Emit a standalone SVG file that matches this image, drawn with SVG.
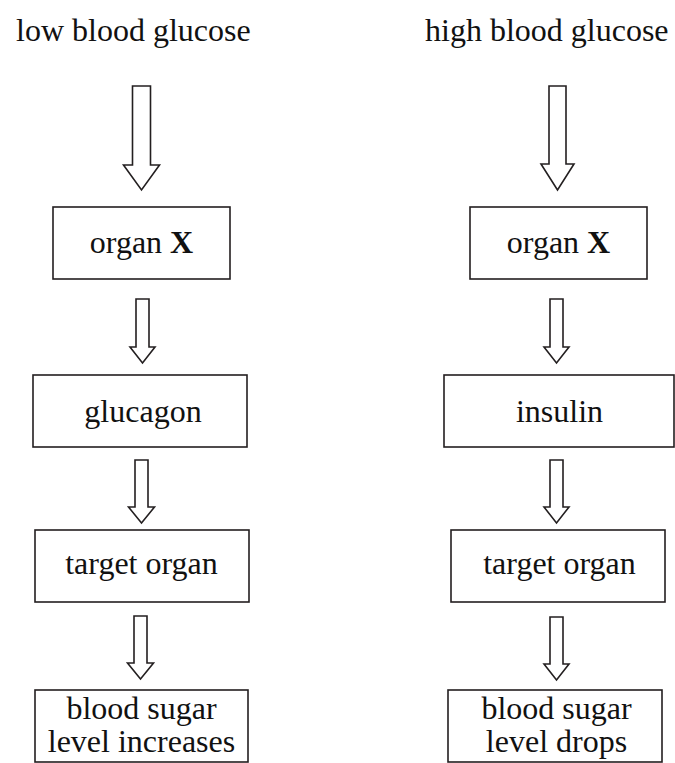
<svg xmlns="http://www.w3.org/2000/svg" width="675" height="763" viewBox="0 0 675 763">
<style>
text{font-family:"Liberation Serif","Times New Roman",serif;font-size:32px;fill:#111}
.c{text-anchor:middle}
.box{fill:#fff;stroke:#231f20;stroke-width:1.6}
.arr{fill:#fff;stroke:#231f20;stroke-width:1.6;stroke-linejoin:miter}
</style>
<rect width="675" height="763" fill="#fff"/>
<g id="title-low"><text x="16" y="41">low blood glucose</text></g>
<g id="title-high"><text x="425" y="41">high blood glucose</text></g>
<g id="connectors">
<polygon class="arr" points="132.5,86 150.5,86 150.5,165 159.5,165 141.5,190 123.5,165 132.5,165"/>
<polygon class="arr" points="136,299 149,299 149,347 155,347 142.5,363 130,347 136,347"/>
<polygon class="arr" points="135,460 148,460 148,507 154.5,507 141.5,523 128.5,507 135,507"/>
<polygon class="arr" points="134,616 147,616 147,663 153.5,663 140.5,679 127.5,663 134,663"/>
<polygon class="arr" points="549,86 566,86 566,164 574,164 557.5,190 541,164 549,164"/>
<polygon class="arr" points="550,299 563,299 563,347 569,347 556.5,363 544,347 550,347"/>
<polygon class="arr" points="550,460 563,460 563,507 569,507 556.5,523 544,507 550,507"/>
<polygon class="arr" points="550,617 563,617 563,664 569,664 556.5,680 544,664 550,664"/>
</g>
<g id="organX-left"><rect class="box" x="53" y="207" width="177" height="72"/><text class="c" x="141.5" y="253">organ <tspan font-weight="bold">X</tspan></text></g>
<g id="glucagon"><rect class="box" x="33" y="375" width="214" height="72"/><text class="c" x="143" y="422">glucagon</text></g>
<g id="target-left"><rect class="box" x="35" y="530" width="214" height="72"/><text class="c" x="141.5" y="574">target organ</text></g>
<g id="result-left"><rect class="box" x="35" y="690" width="213" height="72"/><text class="c" x="141.5" y="719">blood sugar</text><text class="c" x="141.5" y="752">level increases</text></g>
<g id="organX-right"><rect class="box" x="470" y="207" width="177" height="72"/><text class="c" x="558.5" y="253">organ <tspan font-weight="bold">X</tspan></text></g>
<g id="insulin"><rect class="box" x="444" y="375" width="230" height="72"/><text class="c" x="559.5" y="422">insulin</text></g>
<g id="target-right"><rect class="box" x="451" y="530" width="214" height="72"/><text class="c" x="559.5" y="574">target organ</text></g>
<g id="result-right"><rect class="box" x="448" y="690" width="214" height="72"/><text class="c" x="556.5" y="719">blood sugar</text><text class="c" x="556.5" y="752">level drops</text></g>
</svg>
